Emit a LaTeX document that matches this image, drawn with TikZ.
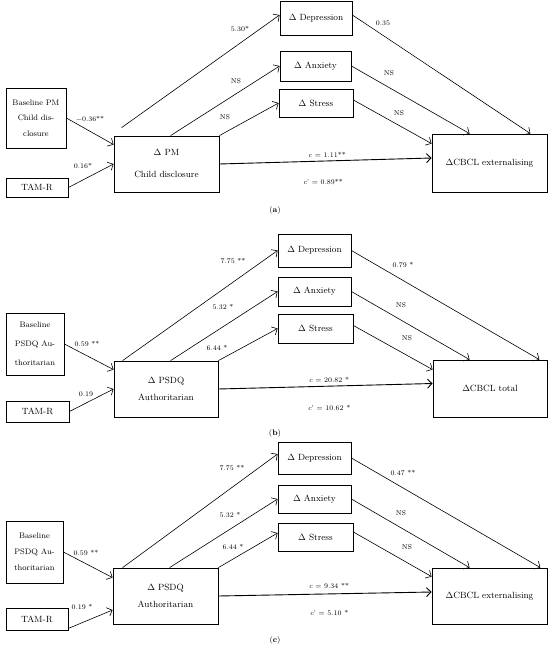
\documentclass[tikz,border=0pt]{standalone}
\usepackage{fontspec}
\usetikzlibrary{arrows.meta}

\tikzset{
  box/.style={draw, line width=0.8pt, inner sep=0pt, align=center, font=\fontsize{9}{11}\selectfont},
  basebox/.style={box, font=\fontsize{8}{15.5}\selectfont},
  lbl/.style={font=\fontsize{7}{8}\selectfont, inner sep=1pt},
  arr/.style={-{Straight Barb[length=4.5pt,width=9pt]}, line width=0.6pt},
}

\begin{document}
\begin{tikzpicture}[x=1pt, y=-1pt]
  \useasboundingbox (0,0) rectangle (550,647);

  % panel (a)
  \node[basebox, minimum width=60pt, minimum height=60pt] (basea) at (36,118) {Baseline PM\\Child dis-\\closure};
  \node[box, minimum width=62pt, minimum height=19pt] (tama) at (37,187.5) {TAM-R};
  \node[box, minimum width=105pt, minimum height=56pt, font=\fontsize{9}{22}\selectfont] (pma) at (166.5,164) {$\Delta$ PM\\Child disclosure};
  \node[box, minimum width=72pt, minimum height=34pt] (depa) at (316,18) {$\Delta$ Depression};
  \node[box, minimum width=71pt, minimum height=30pt] (anxa) at (315.5,66) {$\Delta$ Anxiety};
  \node[box, minimum width=74pt, minimum height=28pt] (stra) at (316,103) {$\Delta$ Stress};
  \node[box, minimum width=115pt, minimum height=58pt] (cbcla) at (489.5,163) {$\Delta$CBCL externalising};
  \draw[arr] (basea.east) -- ([yshift=-9pt]pma.north west);
  \draw[arr] (tama.east) -- (pma.west);
  \draw[arr] ([xshift=8pt,yshift=8pt]pma.north west) -- ([yshift=3pt]depa.west);
  \draw[arr] ([xshift=57pt]pma.north west) -- (anxa.west);
  \draw[arr] (pma.north east) -- (stra.west);
  \draw[arr, line width=0.9pt] (pma.east) -- ([yshift=5pt]cbcla.west);
  \draw[arr] ([yshift=3pt]depa.east) -- ([xshift=-17pt]cbcla.north east);
  \draw[arr] (anxa.east) -- ([xshift=38pt]cbcla.north west);
  \draw[arr] ([yshift=3pt]stra.east) -- ([yshift=-10pt]cbcla.north west);
  \node[lbl] (l1a) at (240,29) {5.30*};
  \node[lbl] (l2a) at (236,81) {NS};
  \node[lbl] (l3a) at (225,117) {NS};
  \node[lbl] (l4a) at (90,119) {$-$0.36**};
  \node[lbl] (l5a) at (83,166) {0.16*};
  \node[lbl] (l6a) at (383,23) {0.35};
  \node[lbl] (l7a) at (389,73) {NS};
  \node[lbl] (l8a) at (399,113) {NS};
  \node[lbl] (l9a) at (327,155) {\textit{c} = 1.11**};
  \node[lbl] (l10a) at (323,182) {\textit{c}' = 0.89**};
  \node[lbl, font=\fontsize{8}{9}\selectfont] (capa) at (275,210) {(\textbf{a})};

  % panel (b)
  \node[basebox, minimum width=58pt, minimum height=62pt, font=\fontsize{8}{19}\selectfont] (baseb) at (35,344) {Baseline\\PSDQ Au-\\thoritarian};
  \node[box, minimum width=63pt, minimum height=21pt] (tamb) at (37.5,411.5) {TAM-R};
  \node[box, minimum width=104pt, minimum height=56pt, font=\fontsize{9}{17}\selectfont] (psb) at (166,389) {$\Delta$ PSDQ\\Authoritarian};
  \node[box, minimum width=73pt, minimum height=33pt] (depb) at (314.5,250.5) {$\Delta$ Depression};
  \node[box, minimum width=73pt, minimum height=29pt] (anxb) at (314.5,291.5) {$\Delta$ Anxiety};
  \node[box, minimum width=75pt, minimum height=29pt] (strb) at (315.5,328.5) {$\Delta$ Stress};
  \node[box, minimum width=114pt, minimum height=57pt] (cbclb) at (490,388.5) {$\Delta$CBCL total};
  \draw[arr] (baseb.east) -- ([yshift=-9pt]psb.north west);
  \draw[arr] (tamb.east) -- (psb.west);
  \draw[arr] ([xshift=9pt]psb.north west) -- (depb.west);
  \draw[arr] ([xshift=57pt]psb.north west) -- (anxb.west);
  \draw[arr] (psb.north east) -- (strb.west);
  \draw[arr, line width=0.9pt] (psb.east) -- ([yshift=5pt]cbclb.west);
  \draw[arr] (depb.east) -- ([xshift=-8pt]cbclb.north east);
  \draw[arr] (anxb.east) -- ([xshift=37pt]cbclb.north west);
  \draw[arr] ([yshift=3pt]strb.east) -- ([yshift=-10pt]cbclb.north west);
  \node[lbl] (l1b) at (233,261) {7.75 **};
  \node[lbl] (l2b) at (223,307) {5.32 *};
  \node[lbl] (l3b) at (217,348) {6.44 *};
  \node[lbl] (l4b) at (87,344) {0.59 **};
  \node[lbl] (l5b) at (86,394) {0.19};
  \node[lbl] (l6b) at (403,265) {0.79 *};
  \node[lbl] (l7b) at (401,305) {NS};
  \node[lbl] (l8b) at (407,338) {NS};
  \node[lbl] (l9b) at (329,380) {\textit{c} = 20.82 *};
  \node[lbl] (l10b) at (329,408) {\textit{c}' = 10.62 *};
  \node[lbl, font=\fontsize{8}{9}\selectfont] (capb) at (275,433) {(\textbf{b})};

  % panel (c)
  \node[basebox, minimum width=57pt, minimum height=62pt, font=\fontsize{8}{16}\selectfont] (basec) at (34.5,552) {Baseline\\PSDQ Au-\\thoritarian};
  \node[box, minimum width=62pt, minimum height=22pt] (tamc) at (37,619) {TAM-R};
  \node[box, minimum width=105pt, minimum height=56pt, font=\fontsize{9}{17}\selectfont] (psc) at (165.5,596) {$\Delta$ PSDQ\\Authoritarian};
  \node[box, minimum width=73pt, minimum height=32pt] (depc) at (314.5,458) {$\Delta$ Depression};
  \node[box, minimum width=73pt, minimum height=28pt] (anxc) at (314.5,499) {$\Delta$ Anxiety};
  \node[box, minimum width=75pt, minimum height=28pt] (strc) at (315.5,537) {$\Delta$ Stress};
  \node[box, minimum width=115pt, minimum height=56pt] (cbclc) at (489.5,596) {$\Delta$CBCL externalising};
  \draw[arr] (basec.east) -- ([yshift=-10pt]psc.north west);
  \draw[arr] ([yshift=2pt]tamc.south east) -- ([yshift=-14pt]psc.west);
  \draw[arr] ([xshift=10pt]psc.north west) -- ([yshift=4pt]depc.west);
  \draw[arr] ([xshift=57pt]psc.north west) -- (anxc.west);
  \draw[arr] (psc.north east) -- ([yshift=4pt]strc.west);
  \draw[arr, line width=0.9pt] (psc.east) -- ([yshift=4pt]cbclc.west);
  \draw[arr] (depc.east) -- ([xshift=-7pt]cbclc.north east);
  \draw[arr] (anxc.east) -- ([xshift=38pt]cbclc.north west);
  \draw[arr] ([yshift=5pt]strc.east) -- ([yshift=-9pt]cbclc.north west);
  \node[lbl] (l1c) at (232,468) {7.75 **};
  \node[lbl] (l2c) at (230,515) {5.32 *};
  \node[lbl] (l3c) at (233,547) {6.44 *};
  \node[lbl] (l4c) at (86,553) {0.59 **};
  \node[lbl] (l5c) at (82,607) {0.19 *};
  \node[lbl] (l6c) at (403,473) {0.47 **};
  \node[lbl] (l7c) at (401,513) {NS};
  \node[lbl] (l8c) at (407,547) {NS};
  \node[lbl] (l9c) at (329,586) {\textit{c} = 9.34 **};
  \node[lbl] (l10c) at (329,613) {\textit{c}' = 5.10 *};
  \node[lbl, font=\fontsize{8}{9}\selectfont] (capc) at (275,640) {(\textbf{c})};
\end{tikzpicture}
\end{document}
